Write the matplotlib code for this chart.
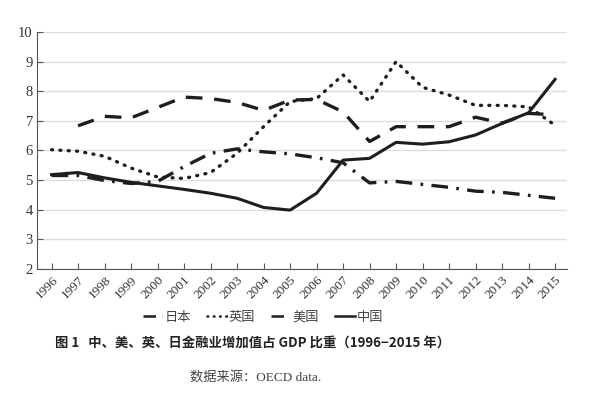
import numpy as np
import matplotlib.pyplot as plt

years = list(range(1996, 2016))
japan = [5.15, 5.15, 4.98, 4.88, 4.95, 5.45, 5.9, 6.05, 5.95, 5.88, 5.75, 5.58,
         4.9, 4.95, 4.85, 4.75, 4.62, 4.58, 4.48, 4.38]
uk = [6.02, 5.97, 5.8, 5.4, 5.1, 5.05, 5.25, 5.9, 6.8, 7.65, 7.75, 8.55,
      7.65, 9.0, 8.13, 7.87, 7.52, 7.52, 7.47, 6.85]
us_years = list(range(1997, 2016))
us = [6.83, 7.15, 7.1, 7.45, 7.8, 7.75, 7.62, 7.35, 7.7, 7.72, 7.3,
      6.3, 6.8, 6.8, 6.8, 7.12, 6.92, 7.25, 7.2]
china = [5.18, 5.25, 5.07, 4.92, 4.8, 4.68, 4.55, 4.38, 4.07, 3.98, 4.55, 5.67,
         5.73, 6.27, 6.21, 6.29, 6.52, 6.91, 7.27, 8.4]

plt.rcParams['font.family'] = ['Liberation Serif', 'Noto Sans CJK SC']

fig = plt.figure(figsize=(6, 3.95), dpi=100)
ax = fig.add_axes([37/600, 1 - 268.7/395, 530/600, 236.7/395])

c = "#1e1e1e"
ax.plot(years, japan, color=c, lw=2.4, dashes=(5, 2.5, 0.8, 2.5), label="日本")
ax.plot(years, uk, color=c, lw=2.4, linestyle=(0, (0.3, 2.2)), dash_capstyle="round", label="英国")
ax.plot(us_years, us, color=c, lw=2.4, dashes=(5, 3.5), label="美国")
ax.plot(years, china, color=c, lw=2.2, label="中国")

ax.set_xlim(1995.45, 2015.45)
ax.set_ylim(2, 10)
ax.set_yticks(range(2, 11))
ax.set_xticks(years)
ax.set_xticklabels([str(y) for y in years], rotation=45, ha="right", va="top", rotation_mode="anchor")
ax.tick_params(axis="both", direction="in", length=4, color="#555555", labelcolor="#333333")
ax.tick_params(axis="x", labelsize=9.5, pad=4)
ax.tick_params(axis="y", labelsize=10.5, pad=3)
ax.grid(axis="y", color="#dddddd", lw=1)
ax.set_axisbelow(True)
for s in ["top", "right"]:
    ax.spines[s].set_visible(False)
for s in ["left", "bottom"]:
    ax.spines[s].set_color("#555555")

leg = fig.legend(loc="center", bbox_to_anchor=(263/600, 1 - 317/395), ncol=4, frameon=False,
                 handlelength=1.5, handletextpad=0.15, columnspacing=1.2,
                 prop={"family": "Noto Sans CJK SC", "size": 9.5})
for t in leg.get_texts():
    t.set_color("#444444")
for h in leg.get_lines():
    h.set_linewidth(1.8)

fig.text(253/600, 1 - 343/395, "图 1   中、美、英、日金融业增加值占 GDP 比重（1996−2015 年）",
         ha="center", va="center", fontsize=9.6, fontweight="bold",
         family=["Noto Sans CJK SC", "DejaVu Sans"], color="#222222")
fig.text(256/600, 1 - 377/395, "数据来源：OECD data.", ha="center", va="center", fontsize=9.5,
         family=["Liberation Serif", "Noto Sans CJK SC"], color="#444444")

fig.savefig("out.png", dpi=100)
